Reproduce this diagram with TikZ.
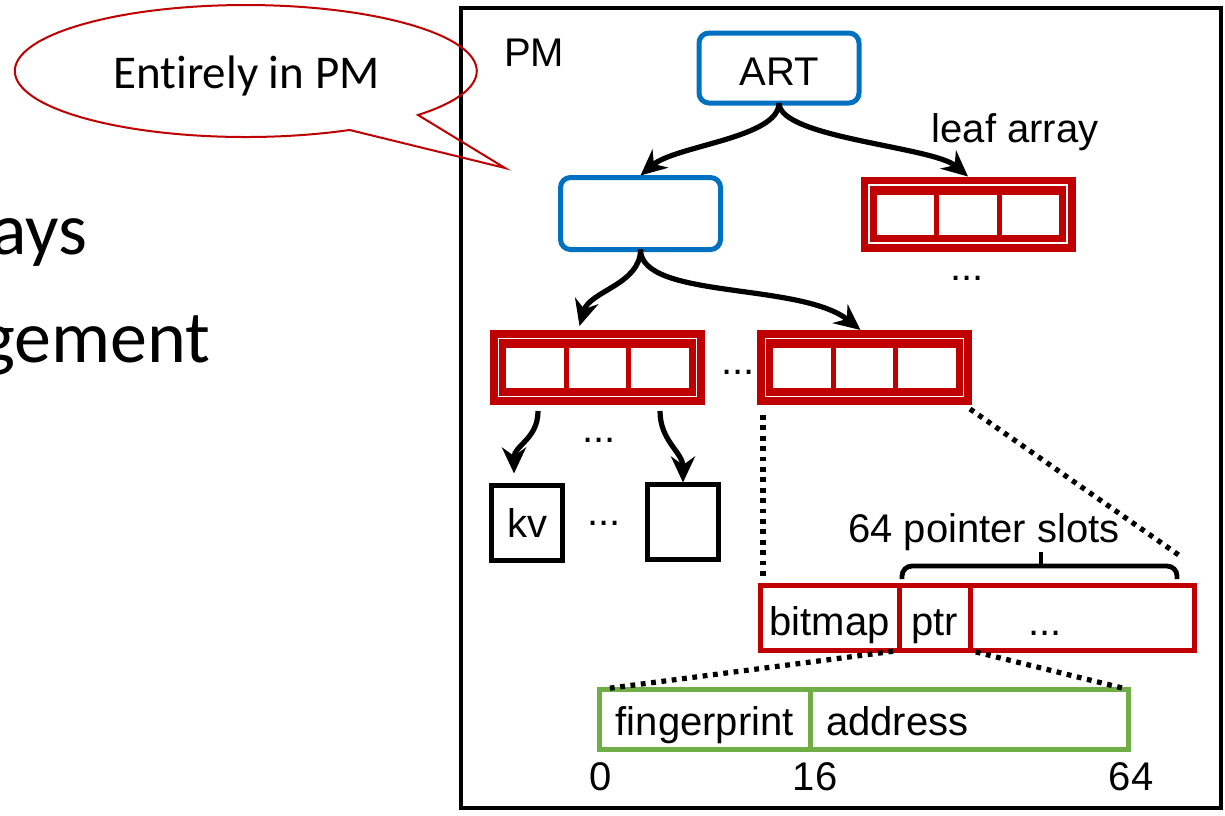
\documentclass[tikz,border=0pt]{standalone}
\usepackage{fontspec}
\usetikzlibrary{arrows.meta,calc}
\newfontfamily\diagfont{Liberation Sans}
\newfontfamily\slidefont[Ligatures={NoCommon}]{Carlito}
\definecolor{pmred}{RGB}{192,0,0}
\definecolor{artblue}{RGB}{0,112,192}
\definecolor{fpgreen}{RGB}{112,173,71}

\begin{document}
\begin{tikzpicture}[x=0.5pt,y=-0.5pt,
  lbl/.style={font=\diagfont\fontsize{20pt}{24pt}\selectfont, inner sep=0pt, outer sep=0pt},
  slide/.style={font=\slidefont\fontsize{37pt}{44pt}\selectfont, inner sep=0pt, outer sep=0pt},
  bubtext/.style={font=\slidefont\fontsize{23.5pt}{28pt}\selectfont, inner sep=0pt, outer sep=0pt},
  bluebox/.style={lbl, draw=artblue, line width=2.5pt, rounded corners=5pt,
    minimum width=80pt, minimum height=35pt},
  blackbox/.style={lbl, draw=black, line width=2.5pt, minimum width=35.5pt, minimum height=37.5pt},
  redarr/.style={fill=pmred, inner sep=0pt, outer sep=0pt,
    minimum width=107.5pt, minimum height=37.5pt,
    path picture={
      \draw[white, line width=0.8pt]
        ([shift={(4.25pt,-4.25pt)}]path picture bounding box.north west) rectangle
        ([shift={(-4.25pt,4.25pt)}]path picture bounding box.south east);
      \fill[white] ([shift={(8pt,-9pt)}]path picture bounding box.north west) rectangle ++(28.8pt,-20pt);
      \fill[white] ([shift={(39.3pt,-9pt)}]path picture bounding box.north west) rectangle ++(28.8pt,-20pt);
      \fill[white] ([shift={(70.6pt,-9pt)}]path picture bounding box.north west) rectangle ++(28.8pt,-20pt);
    }},
  redcell/.style={lbl, draw=pmred, line width=2.5pt, minimum height=32.5pt,
    text height=17pt, text depth=0pt},
  greencell/.style={lbl, draw=fpgreen, line width=2.5pt, minimum height=30pt,
    text height=15.5pt, text depth=0pt},
  arr/.style={line width=2.6pt, -{Stealth[length=13pt,width=12pt]}},
  dotline/.style={line width=2.6pt, dash pattern=on 2.4pt off 2.8pt},
  bracestyle/.style={line width=2.4pt}
]
\useasboundingbox (0,0) rectangle (1225,815);
\clip (0,0) rectangle (1225,815);

% slide text behind the figure
\node[slide, anchor=base east] (l1) at (87,254) {ays};
\node[slide, anchor=base east] (l2) at (210,362) {gement};

% persistent-memory frame
\node[draw, line width=2pt, inner sep=0pt, outer sep=0pt,
      minimum width=380pt, minimum height=400pt] (pm) at (841,408) {};
\node[lbl] (pmlabel) at (534,52.5) {PM};

% speech bubble
\draw[pmred, line width=1pt] (418,115)
  arc[start angle=-41.8, end angle=296.7, x radius=115.5pt, y radius=33pt]
  -- (505,168) -- cycle;
\node[bubtext, anchor=base] (bubble) at (246.5,88) {Entirely in PM};

% tree nodes
\node[bluebox, text height=17pt, text depth=0pt] (art) at (779,68) {ART};
\node[bluebox, minimum height=36pt] (b1) at (640.5,213.5) {};
\node[redarr] (la) at (968,214) {};
\node[lbl, anchor=base] (lalabel) at (1015,142) {leaf array};
\node[lbl] (ladots) at (967,278) {...};

\node[redarr] (a1) at (597.5,367.5) {};
\node[redarr] (a2) at (864.5,367.5) {};
\node[lbl] (adots) at (738,372) {...};
\node[lbl] (kdots) at (599,440) {...};

\node[blackbox] (kv) at (527,523) {kv};
\node[blackbox] (eb) at (683,522) {};
\node[lbl] (bdots) at (604,523) {...};

% leaf layout
\node[lbl, anchor=base] (slots) at (984,542) {64 pointer slots};
\node[redcell, minimum width=69.25pt] (bm) at (829.75,618) {bitmap};
\node[redcell, minimum width=35.5pt] (ptr) at (934.5,618) {ptr};
\node[redcell, text width=54.25pt, inner xsep=29pt, align=left] (rest) at (1082.25,618) {...};

% pointer layout
\node[greencell, minimum width=105.25pt] (fp) at (704.75,719.5) {fingerprint};
\node[greencell, text width=143.25pt, inner xsep=8pt, align=left] (ad) at (969.25,719.5) {address};
\node[lbl] (n0) at (601,777) {0};
\node[lbl] (n16) at (815,777) {16};
\node[lbl] (n64) at (1131,777) {64};

% tree edges
\draw[arr] (art.south) .. controls +(0,35) and +(35,-30) .. ([yshift=1pt]b1.north);
\draw[arr] (art.south) .. controls +(0,35) and +(-35,-30) .. (la.north);
\draw[arr] (b1.south) .. controls +(0,35) and +(10,-35) .. ([xshift=-9pt,yshift=2pt]a1.north);
\draw[arr] (b1.south) .. controls +(0,50) and +(-60,-48) .. ([xshift=-2pt]a2.north);
\draw[arr] ([xshift=24pt,yshift=-3pt]a1.south west) .. controls +(0,28) and +(0,-28) .. ([xshift=-6.5pt,yshift=6pt]kv.north);
\draw[arr] ([xshift=-22.5pt,yshift=-3pt]a1.south east) .. controls +(0,30) and +(0,-30) .. ([yshift=1pt]eb.north);

% zoom-in guides
\coordinate (dend) at (1183,558);
\draw[dotline] ($(bm.north west |- a2.south)+(2.5,10)$) -- ($(bm.north west)+(2.5,-6)$);
\draw[dotline] ($(a2.south east)+(-2,4)$) -- (dend);
\draw[dotline, shorten <=3pt, shorten >=3pt] (bm.south east) -- (fp.north west);
\draw[dotline, shorten <=3pt, shorten >=3pt] (ptr.south east) -- (ad.north east);

% brace over the pointer slots
\coordinate (brL) at (902,579);
\coordinate (brR) at (1177,579);
\coordinate (brM) at (1041,566);
\coordinate (brC) at (1041,552);
\draw[bracestyle, rounded corners=5pt] (brL) |- (brM) -| (brR);
\draw[bracestyle] (brM) -- (brC);
\end{tikzpicture}
\end{document}
